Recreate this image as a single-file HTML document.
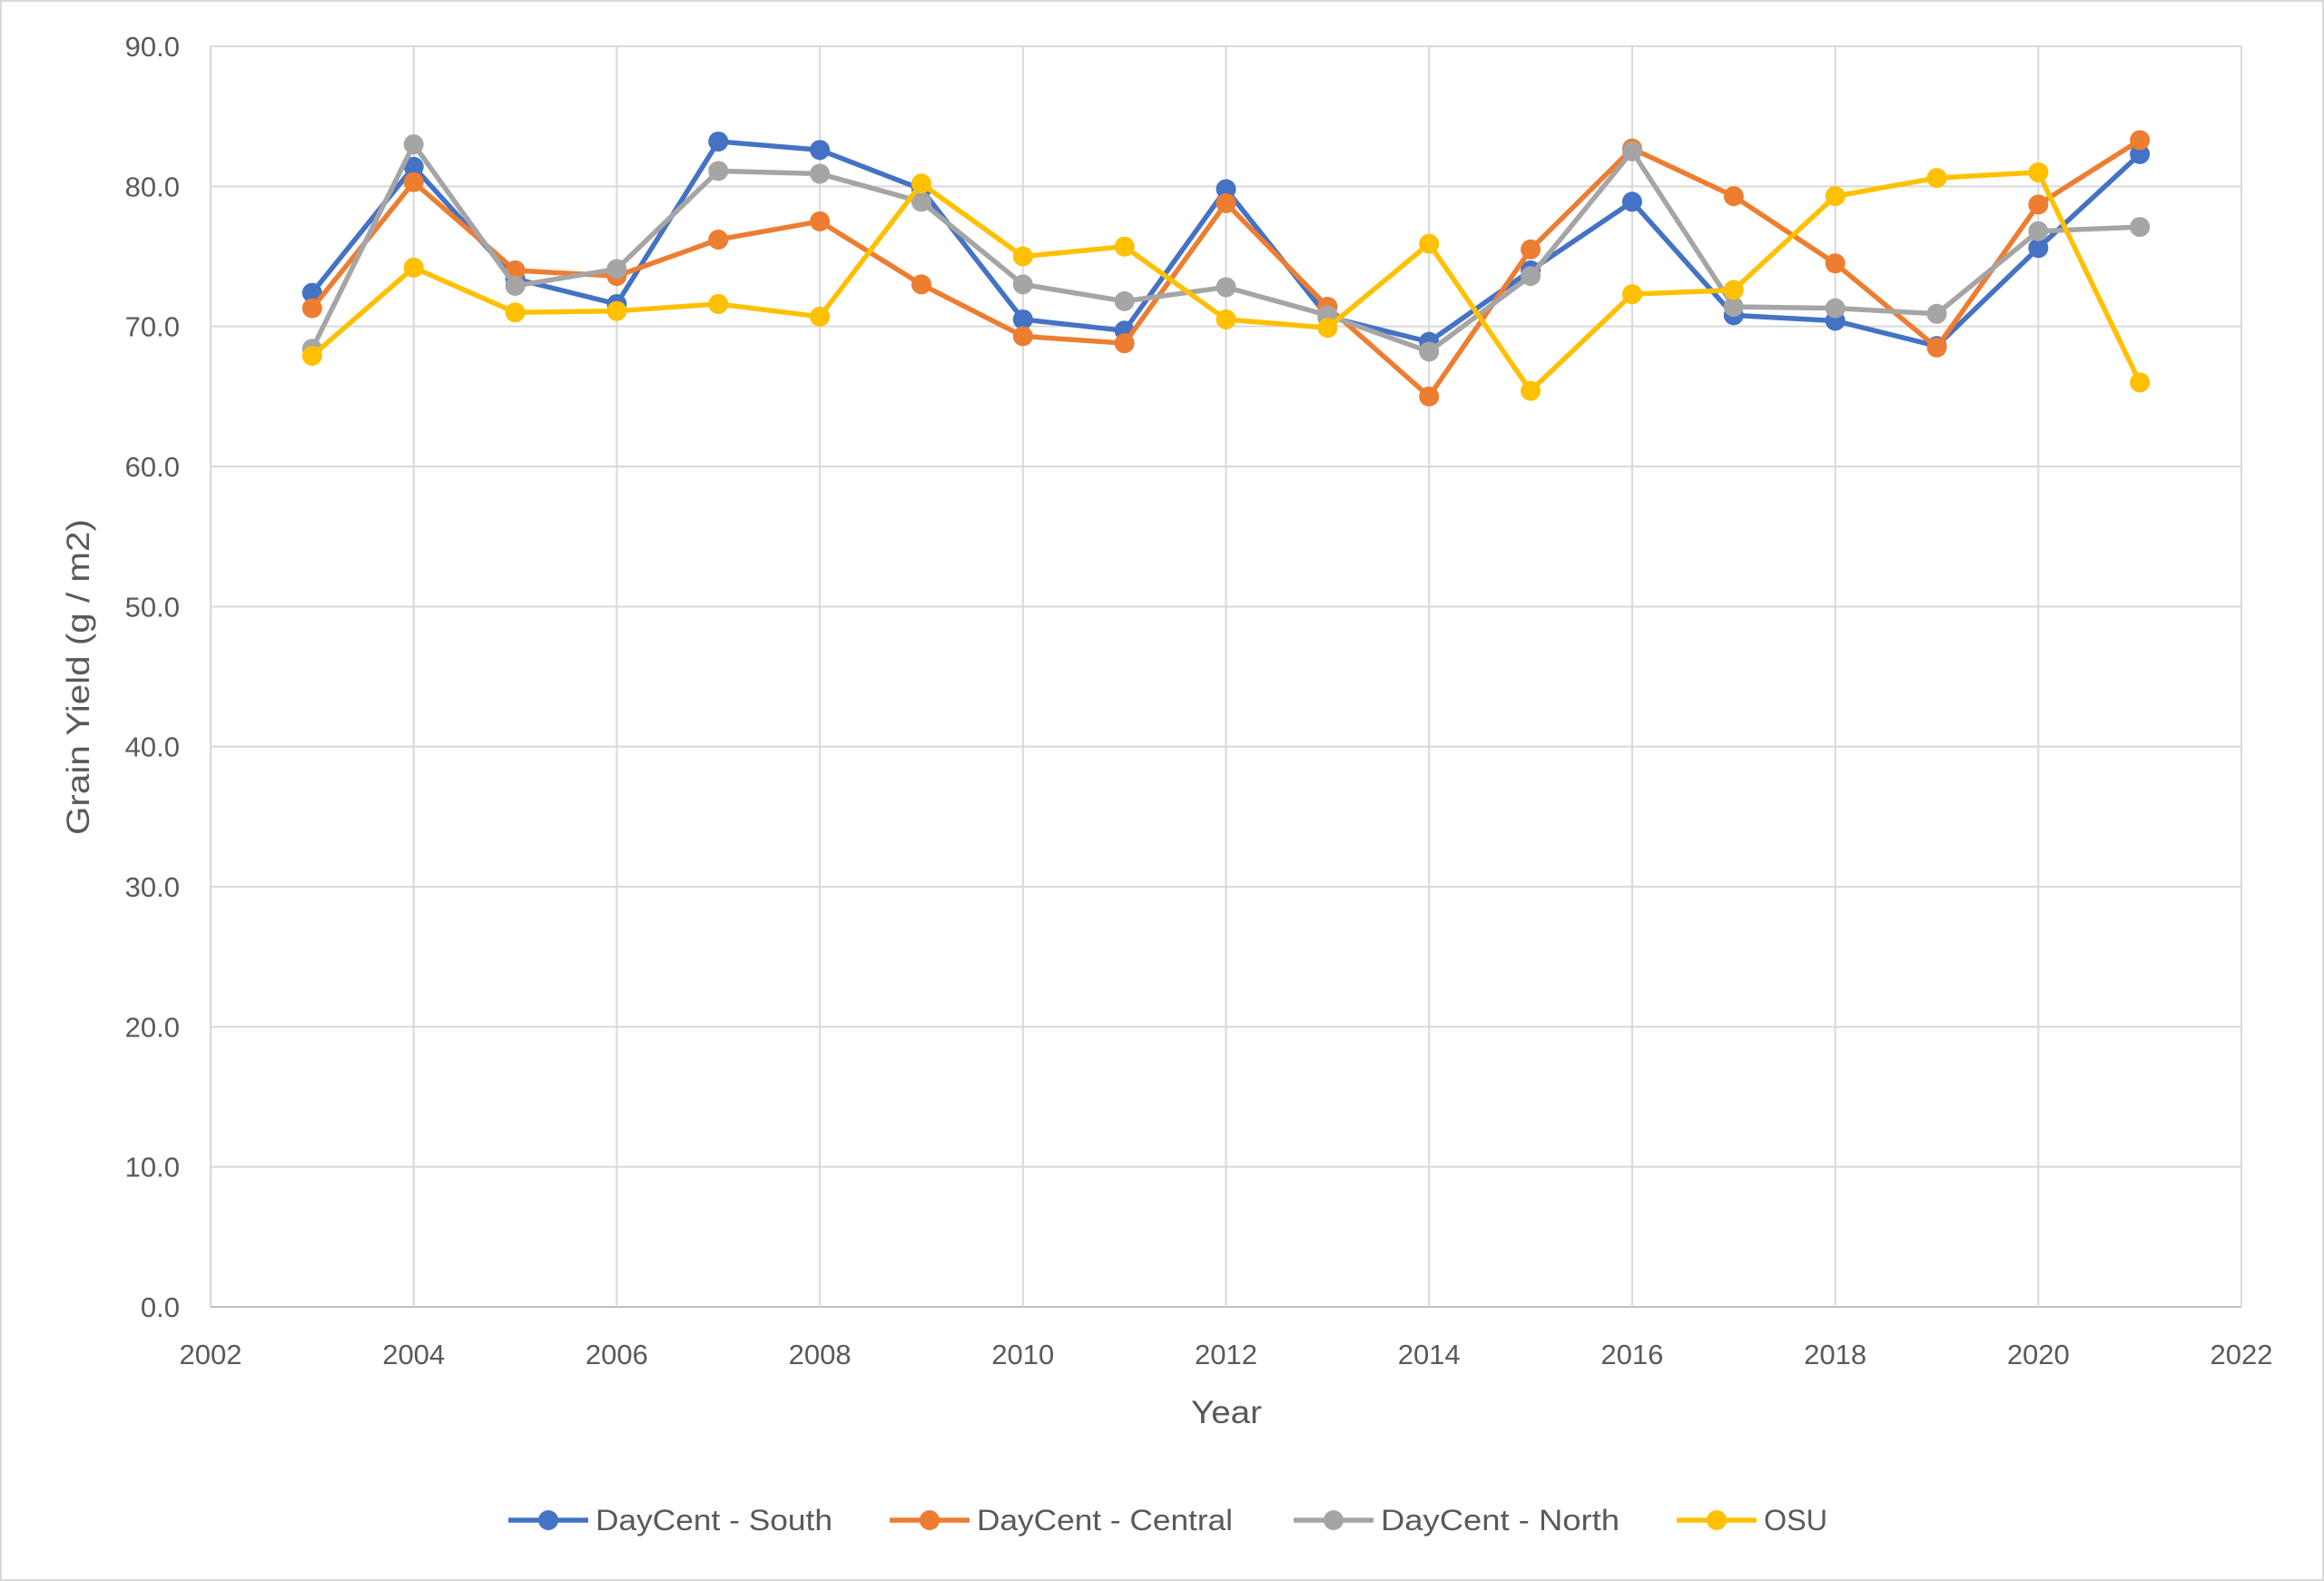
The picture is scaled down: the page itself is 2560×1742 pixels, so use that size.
<!DOCTYPE html>
<html><head><meta charset="utf-8"><style>
html,body{margin:0;padding:0;background:#fff}
svg{display:block;font-family:"Liberation Sans",sans-serif}
</style></head><body>
<svg id="chart" width="2560" height="1742" viewBox="0 0 2560 1742" xmlns="http://www.w3.org/2000/svg">
<rect x="1" y="1" width="2558" height="1740" fill="#fff" stroke="#d9d9d9" stroke-width="2"/>
<g id="grid"></g><g id="axes"></g><g id="series"></g><g id="legend"></g>
<text x="1351" y="1568" font-size="35" fill="#595959" text-anchor="middle" textLength="78" lengthAdjust="spacingAndGlyphs">Year</text>
<text transform="translate(98,746) rotate(-90)" font-size="35" fill="#595959" text-anchor="middle" textLength="348" lengthAdjust="spacingAndGlyphs">Grain Yield (g / m2)</text>
</svg>
<script>
const years=[2003,2004,2005,2006,2007,2008,2009,2010,2011,2012,2013,2014,2015,2016,2017,2018,2019,2020,2021];
const south=[72.4,81.4,73.4,71.6,83.2,82.6,79.8,70.5,69.7,79.8,70.7,68.9,74.0,78.9,70.8,70.4,68.6,75.6,82.3];
const central=[71.3,80.3,74.0,73.6,76.2,77.5,73.0,69.3,68.8,78.8,71.4,65.0,75.5,82.7,79.3,74.5,68.5,78.7,83.3];
const north=[68.4,83.0,72.9,74.1,81.1,80.9,78.9,73.0,71.8,72.8,70.8,68.2,73.6,82.5,71.4,71.3,70.9,76.8,77.1];
const osu=[67.9,74.2,71.0,71.1,71.6,70.7,80.2,75.0,75.7,70.5,69.9,75.9,65.4,72.3,72.6,79.3,80.6,81.0,66.0];
const xTicks=[2002,2004,2006,2008,2010,2012,2014,2016,2018,2020,2022];
const yTicks=[0,10,20,30,40,50,60,70,80,90];
const seriesNames=["DayCent - South","DayCent - Central","DayCent - North","OSU"];
const X0=232,X1=2469,Y0=1440,Y1=51;
const xs=v=>X0+(v-2002)/20*(X1-X0);
const ys=v=>Y0-(v/90)*(Y0-Y1);
const NS="http://www.w3.org/2000/svg";
function mk(tag,attrs,parent){const e=document.createElementNS(NS,tag);for(const k in attrs)e.setAttribute(k,attrs[k]);parent.appendChild(e);return e;}
const grid=document.getElementById('grid'),axes=document.getElementById('axes'),ser=document.getElementById('series'),leg=document.getElementById('legend');
yTicks.forEach(t=>{
  const l=mk('line',{x1:X0,x2:X1,y1:ys(t),y2:ys(t),stroke:t===0?'#bfbfbf':'#d9d9d9','stroke-width':2},grid);
  
  
  const tx=mk('text',{x:198,y:ys(t)+11,'font-size':31,fill:'#595959','text-anchor':'end'},axes);
  
  
  tx.textContent=t.toFixed(1);
});
xTicks.forEach(t=>{
  const l=mk('line',{x1:xs(t),x2:xs(t),y1:Y1,y2:Y0,stroke:'#d9d9d9','stroke-width':2},grid);
  
  
  const tx=mk('text',{x:xs(t),y:1503,'font-size':31,fill:'#595959','text-anchor':'middle'},axes);
  
  
  tx.textContent=t;
});
const all=[south,central,north,osu],colors=['#4472c4','#ed7d31','#a5a5a5','#ffc000'],keys=['south','central','north','osu'];
all.forEach((d,i)=>{
  const g=mk('g',{},ser);
  
  
  const p=mk('polyline',{points:d.map((v,j)=>xs(years[j])+','+ys(v)).join(' '),fill:'none',stroke:colors[i],'stroke-width':5.5,'stroke-linejoin':'round'},g);
  
  
  d.forEach((v,j)=>{
    const c=mk('circle',{cx:xs(years[j]),cy:ys(v),r:11,fill:colors[i]},g);
    
    
  });
});
const lx=[560,980,1425,1847];
const lw=[261,282,263,70];
seriesNames.forEach((n,i)=>{
  const g=mk('g',{},leg);
  
  
  mk('line',{x1:lx[i],x2:lx[i]+88,y1:1675,y2:1675,stroke:colors[i],'stroke-width':5.5},g);
  mk('circle',{cx:lx[i]+44,cy:1675,r:11,fill:colors[i]},g);
  const t=mk('text',{x:lx[i]+96,y:1686,'font-size':32,fill:'#595959',textLength:lw[i],lengthAdjust:'spacingAndGlyphs'},g);
  t.textContent=n;
});
</script>
</body></html>
